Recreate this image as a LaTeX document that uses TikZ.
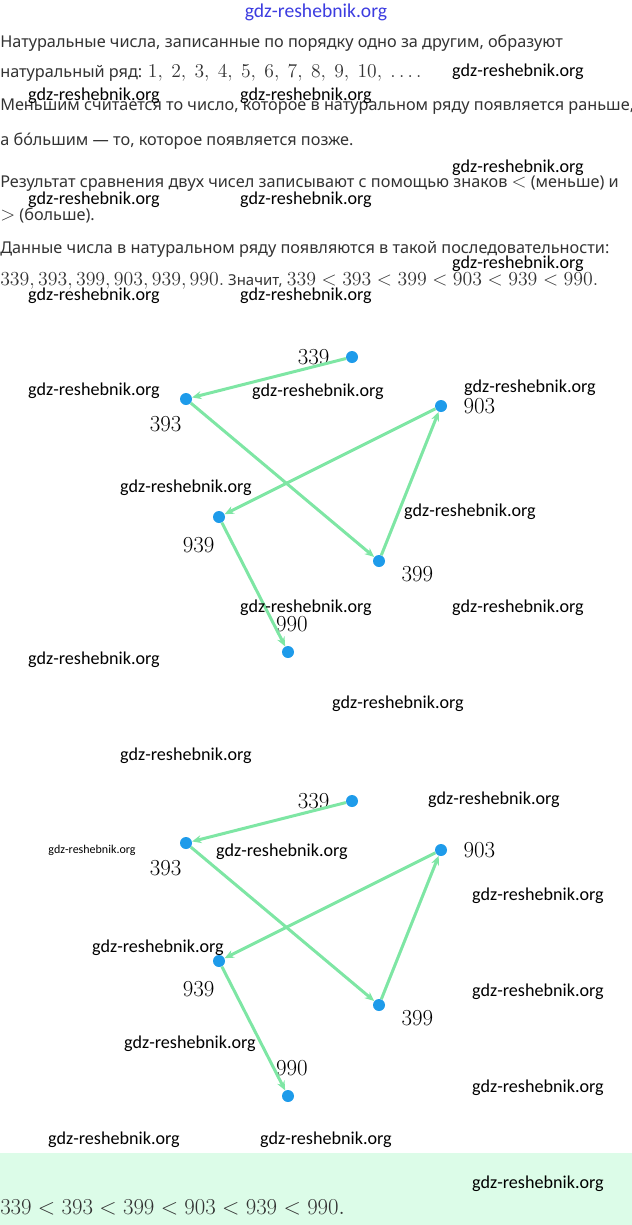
\RequirePackage{fix-cm}
\documentclass[tikz,border=0pt]{standalone}
\usepackage[no-math]{fontspec}
\setmainfont{Noto Sans}
\newfontfamily\wmfont{Carlito}
\usepackage{xcolor}
\usepackage{tikz}
\usetikzlibrary{arrows.meta, positioning}
\definecolor{tekstcol}{HTML}{333333}
\definecolor{tochkacol}{HTML}{1E9BEA}
\definecolor{strelkacol}{HTML}{7EE6A4}
\definecolor{polosacol}{HTML}{DCFCE8}
\definecolor{znakcol}{HTML}{3C3CE0}
\newcommand{\chisla}[1]{{\fontsize{14.7}{17}\selectfont$#1$}}
\newcommand{\bolchisla}[1]{{\fontsize{14.9}{18}\selectfont$#1$}}
\tikzset{
  tekst/.style={anchor=west, inner sep=0pt, text=tekstcol, font=\fontsize{12.2}{14}\selectfont},
  tochka/.style={circle, fill=tochkacol, minimum size=9pt, inner sep=0pt},
  metka/.style={inner sep=0pt, font=\fontsize{17.2}{19}\selectfont},
  strelka/.style={-{Stealth[length=7pt, width=6pt]}, line width=2.25pt, color=strelkacol},
  vodznak/.style={inner sep=0pt, font=\wmfont\fontsize{13.6}{15}\selectfont},
}

\begin{document}
\begin{tikzpicture}[x=0.75pt, y=-0.75pt]
  \useasboundingbox (0,0) rectangle (632,1225);
  \fill[polosacol] (0,1153) rectangle (632,1225);
  % tekst
  \node[tekst] (t1) at (0,43) {Натуральные числа, записанные по порядку одно за другим, образуют};
  \node[tekst] (t2) at (0,73) {натуральный ряд: \chisla{1,\ 2,\ 3,\ 4,\ 5,\ 6,\ 7,\ 8,\ 9,\ 10,\ \ldots.}};
  \node[tekst] (t3) at (0,107) {Меньшим считается то число, которое в натуральном ряду появляется раньше,};
  \node[tekst] (t4) at (0,141) {а б\'{о}льшим — то, которое появляется позже.};
  \node[tekst] (t5) at (0,184) {Результат сравнения двух чисел записывают с помощью знаков \chisla{<} (меньше) и};
  \node[tekst] (t6) at (0,216) {\chisla{>} (больше).};
  \node[tekst] (t7) at (0,249) {Данные числа в натуральном ряду появляются в такой последовательности:};
  \node[tekst] (t8) at (0,281) {\bolchisla{339, 393, 399, 903, 939, 990.}{\fontsize{11.2}{13}\selectfont\ Значит,} \bolchisla{339<393<399<903<939<990.}};
  % dva grafa
  \foreach \g/\dy in {a/0, b/444} {
    \node[tochka] (\g339) at (352,{357+\dy}) {};
    \node[tochka] (\g393) at (186,{399+\dy}) {};
    \node[tochka] (\g903) at (441,{406+\dy}) {};
    \node[tochka] (\g939) at (219,{517+\dy}) {};
    \node[tochka] (\g399) at (379,{561+\dy}) {};
    \node[tochka] (\g990) at (288,{652+\dy}) {};
    \node[metka, left=12pt of \g339] (\g339m) {$339$};
    \node[metka, below left=9.6pt and 0pt of \g393] (\g393m) {$393$};
    \node[metka, right=12pt of \g903] (\g903m) {$903$};
    \node[metka, below left=12pt and 0pt of \g939] (\g939m) {$939$};
    \node[metka, below right=0.6pt and 13.4pt of \g399] (\g399m) {$399$};
    \node[metka, above=10.5pt of \g990, xshift=3pt] (\g990m) {$990$};
    \foreach \s/\t in {339/393, 393/399, 399/903, 903/939, 939/990}
      \draw[strelka] (\g\s) -- (\g\t);
  }
  \node[tekst] (itog) at (0,1207) {\fontsize{17.1}{19}\selectfont$339<393<399<903<939<990.$};
  % vodyanye znaki
  \node[vodznak, text=znakcol, font=\wmfont\fontsize{14.7}{16}\selectfont] (w0) at (316,12) {gdz-reshebnik.org};
  \foreach \x/\y [count=\i] in {518/72, 94/96, 306/96, 518/168, 94/200, 306/200, 518/264, 94/296, 306/296,
      94/391, 318/392, 530/388, 186/488, 470/512, 306/608, 518/608, 94/660, 398/704, 186/756,
      494/800, 282/852, 538/896, 158/948, 538/992, 190/1044, 538/1088, 114/1140, 326/1140, 538/1184}
    \node[vodznak] (w\i) at (\x,\y) {gdz-reshebnik.org};
  \node[vodznak, font=\wmfont\fontsize{9}{10}\selectfont] (wm) at (92,850) {gdz-reshebnik.org};
\end{tikzpicture}
\end{document}
